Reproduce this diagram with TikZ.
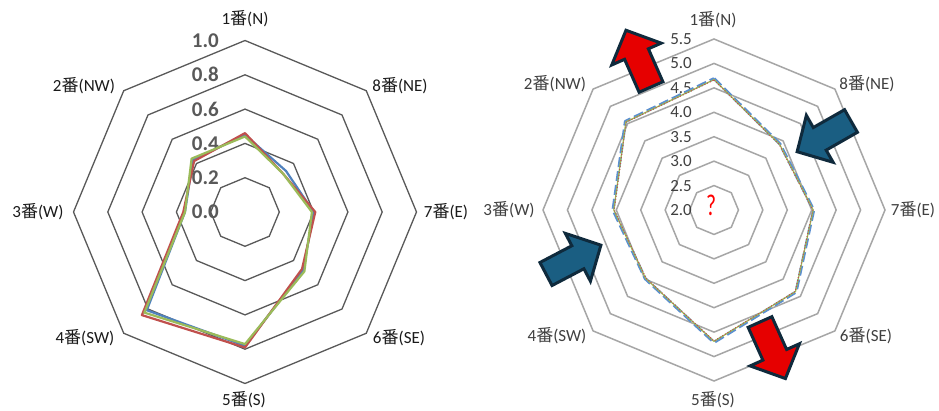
\documentclass[tikz,border=0pt]{standalone}
\usepackage{fontspec}
\setmainfont{Carlito}
\newfontfamily\cjk{Noto Sans CJK JP}
\usetikzlibrary{calc}
\definecolor{gridL}{HTML}{595959}
\definecolor{gridR}{HTML}{A6A6A6}
\definecolor{tickLc}{HTML}{595959}
\definecolor{tickRc}{HTML}{404040}
\definecolor{catLc}{HTML}{1A1A1A}
\definecolor{catRc}{HTML}{404040}
\definecolor{serBlue}{HTML}{4F81BD}
\definecolor{serRed}{HTML}{C0504D}
\definecolor{serGreen}{HTML}{9BBB59}
\definecolor{dashBlue}{HTML}{5B8FD0}
\definecolor{arrRed}{HTML}{E60000}
\definecolor{arrBlue}{HTML}{1A5E82}
\definecolor{arrEdge}{HTML}{0F2A3C}
\newcommand{\rpoly}[9]{%
  ($(#1)+(90:#2)$) -- ($(#1)+(45:#3)$) -- ($(#1)+(0:#4)$) -- ($(#1)+(-45:#5)$) --
  ($(#1)+(-90:#6)$) -- ($(#1)+(-135:#7)$) -- ($(#1)+(180:#8)$) -- ($(#1)+(135:#9)$) -- cycle}
\newcommand{\barrow}[4]{%
  \draw[arrowline, fill=#1, shift={(#2)}, rotate=#3] (0pt,-13pt) -- (36pt,-13pt) -- (36pt,-27pt)
    -- (#4,0pt) -- (36pt,27pt) -- (36pt,13pt) -- (0pt,13pt) -- cycle;}
\tikzset{
  gridLs/.style={draw=gridL, line width=1.3pt, line join=miter},
  gridRs/.style={draw=gridR, line width=1.5pt, line join=miter},
  catL/.style={font=\fontsize{17}{17}\selectfont, text=catLc, inner sep=0pt},
  catR/.style={font=\fontsize{17}{17}\selectfont, text=catRc, inner sep=0pt},
  tickL/.style={font=\bfseries\fontsize{21}{21}\selectfont, text=tickLc, anchor=east, inner sep=0pt},
  tickR/.style={font=\fontsize{17}{17}\selectfont, text=tickRc, anchor=east, inner sep=0pt},
  serL/.style={draw=#1, line width=2.2pt, line join=round},
  arrowline/.style={draw=arrEdge, line width=3pt, line join=miter}
}
\begin{document}
\begin{tikzpicture}[x=1pt,y=-1pt]
\useasboundingbox[fill=white] (0,0) rectangle (939,411);
\coordinate (cL) at (245,212);
\coordinate (cR) at (714,210);
% ---------- left chart grid ----------
\foreach \r in {34.3,68.6,102.9,137.2,171.5}{
  \draw[gridLs] \rpoly{cL}{\r pt}{\r pt}{\r pt}{\r pt}{\r pt}{\r pt}{\r pt}{\r pt};
}
% left tick labels
\node[tickL] (tl0) at (219,212) {0.0};
\node[tickL] (tl1) at (219,177.7) {0.2};
\node[tickL] (tl2) at (219,143.4) {0.4};
\node[tickL] (tl3) at (219,109.1) {0.6};
\node[tickL] (tl4) at (219,74.8) {0.8};
\node[tickL] (tl5) at (219,40.5) {1.0};
% left series
\draw[serL=serBlue] \rpoly{cL}{77.2pt}{58.0pt}{68.6pt}{82.3pt}{133.8pt}{138.9pt}{60.0pt}{73.7pt};
\draw[serL=serRed] \rpoly{cL}{78.9pt}{54.0pt}{70.3pt}{80.6pt}{135.5pt}{145.8pt}{61.7pt}{72.0pt};
\draw[serL=serGreen] \rpoly{cL}{75.5pt}{54.0pt}{66.9pt}{84.0pt}{132.1pt}{142.3pt}{60.0pt}{75.5pt};
% left category labels
\node[catL] (lN) at (245,19) {1{\cjk 番}(N)};
\node[catL] (lNE) at (400,86) {8{\cjk 番}(NE)};
\node[catL] (lE) at (446,212) {7{\cjk 番}(E)};
\node[catL] (lSE) at (399,338) {6{\cjk 番}(SE)};
\node[catL] (lS) at (244,400) {5{\cjk 番}(S)};
\node[catL] (lSW) at (85,338) {4{\cjk 番}(SW)};
\node[catL] (lW) at (38,212) {3{\cjk 番}(W)};
\node[catL] (lNW) at (84,86) {2{\cjk 番}(NW)};
% ---------- right chart grid ----------
\foreach \r in {24.43,48.86,73.29,97.71,122.14,146.57,171}{
  \draw[gridRs] \rpoly{cR}{\r pt}{\r pt}{\r pt}{\r pt}{\r pt}{\r pt}{\r pt}{\r pt};
}
% right tick labels
\node[tickR] (tr0) at (692,210) {2.0};
\node[tickR] (tr1) at (692,185.6) {2.5};
\node[tickR] (tr2) at (692,161.1) {3.0};
\node[tickR] (tr3) at (692,136.7) {3.5};
\node[tickR] (tr4) at (692,112.3) {4.0};
\node[tickR] (tr5) at (692,87.9) {4.5};
\node[tickR] (tr6) at (692,63.4) {5.0};
\node[tickR] (tr7) at (692,39) {5.5};
% right series
\draw[draw=dashBlue, line width=3pt, dash pattern=on 10pt off 4pt, line join=round]
  \rpoly{cR}{131.4pt}{93.3pt}{99.7pt}{116.0pt}{132.4pt}{97.2pt}{101.0pt}{125.3pt};
\draw[draw=serGreen, line width=1.2pt, line join=round]
  \rpoly{cR}{130.4pt}{92.8pt}{99.2pt}{115.3pt}{131.4pt}{96.7pt}{100.2pt}{124.6pt};
\draw[draw=serRed, line width=1.1pt, dash pattern=on 1pt off 2pt, line join=round]
  \rpoly{cR}{130.0pt}{92.4pt}{98.8pt}{115.0pt}{131.0pt}{96.3pt}{99.8pt}{124.2pt};
% question mark
\node[text=red, font=\fontsize{30}{30}\selectfont, inner sep=0pt] (q) at (711,205) {\scalebox{0.72}[1]{?}};
% right category labels
\node[catR] (rN) at (713,20) {1{\cjk 番}(N)};
\node[catR] (rNE) at (867,84) {8{\cjk 番}(NE)};
\node[catR] (rE) at (913,210) {7{\cjk 番}(E)};
\node[catR] (rSE) at (866,336) {6{\cjk 番}(SE)};
\node[catR] (rS) at (713,400) {5{\cjk 番}(S)};
\node[catR] (rSW) at (557,336) {4{\cjk 番}(SW)};
\node[catR] (rW) at (509,210) {3{\cjk 番}(W)};
\node[catR] (rNW) at (555,84) {2{\cjk 番}(NW)};
% ---------- block arrows ----------
\barrow{arrRed}{651,87}{113.8}{62pt}
\barrow{arrRed}{760,322}{-65.8}{62pt}
\barrow{arrBlue}{851,121}{-150.3}{62pt}
\barrow{arrBlue}{546,274}{27.7}{62pt}
\end{tikzpicture}
\end{document}
